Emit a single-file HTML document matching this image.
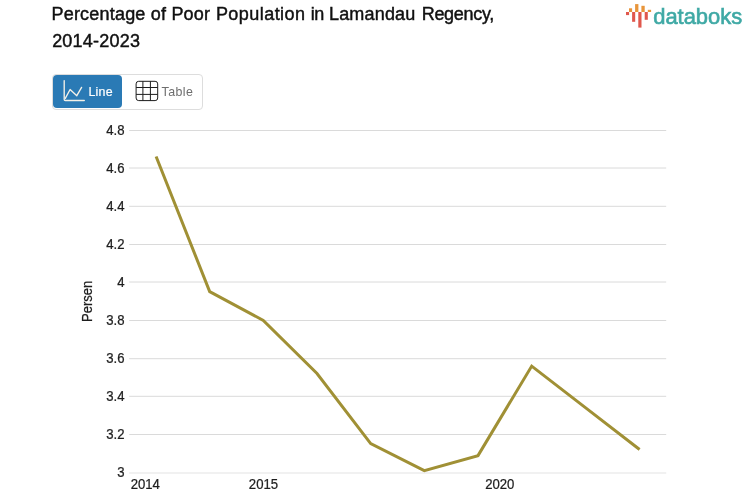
<!DOCTYPE html>
<html><head><meta charset="utf-8">
<style>
html,body{margin:0;padding:0;background:#fff;}
body{width:753px;height:498px;position:relative;overflow:hidden;font-family:"Liberation Sans",sans-serif;}
.t{position:absolute;left:51.5px;font-size:18px;line-height:26px;color:#111;white-space:nowrap;-webkit-text-stroke:0.45px #111;}
.t1{top:1px;letter-spacing:0.2px;}
.t2{top:27.5px;left:52.15px;letter-spacing:0.21px;}
.tabs{position:absolute;left:52px;top:74px;width:151px;height:36px;border:1px solid #ddd;border-radius:4px;box-sizing:border-box;background:#fff;}
.tab-line{position:absolute;left:-0.1px;top:-0.3px;width:69.1px;height:33.1px;background:#2a7ab5;border-radius:4px;color:#fff;font-size:12px;}
.tab-line span{position:absolute;left:35.5px;top:10px;line-height:14px;font-size:12.4px;letter-spacing:0.25px;-webkit-text-stroke:0.2px #fff;}
.tab-table{position:absolute;left:108.5px;top:10px;line-height:14px;font-size:12.4px;letter-spacing:0.45px;color:#6e6e6e;}
svg{position:absolute;left:0;top:0;}
.ax{font-family:"Liberation Sans",sans-serif;font-size:14px;fill:#1e1e1e;stroke:#1e1e1e;stroke-width:0.25px;}
</style></head><body>
<div class="t t1">Percentage of Poor</div>
<div class="t t1" style="left:215.9px;letter-spacing:0.45px">Population</div>
<div class="t t1" style="left:310.8px;letter-spacing:-0.5px">in</div>
<div class="t t1" style="left:329px;letter-spacing:0.17px">Lamandau</div>
<div class="t t1" style="left:421.7px;letter-spacing:-0.3px">Regency,</div>
<div class="t t2">2014-2023</div>
<div class="tabs">
  <div class="tab-line"><span>Line</span></div>
  <div class="tab-table">Table</div>
</div>
<svg width="753" height="498" viewBox="0 0 753 498">
  <!-- gridlines -->
  <g stroke="#dadada" stroke-width="1">
    <line x1="129.2" x2="666.2" y1="130.5" y2="130.5"/>
    <line x1="129.2" x2="666.2" y1="168.0" y2="168.0"/>
    <line x1="129.2" x2="666.2" y1="206.3" y2="206.3"/>
    <line x1="129.2" x2="666.2" y1="244.5" y2="244.5"/>
    <line x1="129.2" x2="666.2" y1="282.0" y2="282.0"/>
    <line x1="129.2" x2="666.2" y1="320.5" y2="320.5"/>
    <line x1="129.2" x2="666.2" y1="358.7" y2="358.7"/>
    <line x1="129.2" x2="666.2" y1="396.3" y2="396.3"/>
    <line x1="129.2" x2="666.2" y1="434.5" y2="434.5"/>
  </g>
  <rect x="129.2" y="472" width="537" height="2" fill="#f1f1f1"/>
  <g class="ax" text-anchor="end">
    <text transform="translate(124.6,134.8) scale(0.94,1)">4.8</text>
    <text transform="translate(124.6,172.8) scale(0.94,1)">4.6</text>
    <text transform="translate(124.6,210.8) scale(0.94,1)">4.4</text>
    <text transform="translate(124.6,248.8) scale(0.94,1)">4.2</text>
    <text transform="translate(124.6,286.8) scale(0.94,1)">4</text>
    <text transform="translate(124.6,324.8) scale(0.94,1)">3.8</text>
    <text transform="translate(124.6,362.8) scale(0.94,1)">3.6</text>
    <text transform="translate(124.6,400.8) scale(0.94,1)">3.4</text>
    <text transform="translate(124.6,438.8) scale(0.94,1)">3.2</text>
    <text transform="translate(124.6,476.8) scale(0.94,1)">3</text>
  </g>
  <g class="ax" text-anchor="middle">
    <text transform="translate(145.3,488.5) scale(0.94,1)">2014</text>
    <text transform="translate(263.5,488.5) scale(0.94,1)">2015</text>
    <text transform="translate(499.8,488.5) scale(0.94,1)">2020</text>
  </g>
  <text class="ax" transform="translate(91.6,301.4) rotate(-90) scale(0.895,1)" text-anchor="middle" style="font-size:14.5px">Persen</text>
  <polyline fill="none" stroke="#a09035" stroke-width="3" stroke-linejoin="miter" points="156.1,156.5 209.7,291.6 263.3,320.4 317.0,373.5 370.7,443.6 424.3,470.7 478.0,455.6 531.7,366.1 585.4,407.6 639.6,449.5"/>
  <!-- logo -->
  <g id="logo">
    <g fill="#e0584d">
      <rect x="626" y="12" width="3.1" height="3.1"/>
      <rect x="632.1" y="12" width="3.1" height="9.8"/>
      <rect x="638.3" y="12" width="3.2" height="15.6"/>
      <rect x="644.7" y="12" width="3.1" height="7.8"/>
    </g>
    <g fill="#e8953a">
      <rect x="629" y="8.3" width="3.1" height="3.7"/>
      <rect x="635.1" y="4.1" width="3.3" height="7.9"/>
      <rect x="641.4" y="5.8" width="3.3" height="6.2"/>
      <rect x="647.8" y="9.8" width="3.3" height="2.2"/>
    </g>
    <text x="653.2" y="23.5" textLength="89" lengthAdjust="spacingAndGlyphs" style="font-family:'Liberation Sans',sans-serif;font-size:22.4px;fill:#3fa9a5;stroke:#3fa9a5;stroke-width:0.65px;">databoks</text>
  </g>
  <!-- tab icons -->
  <g id="icons">
    <g fill="none" stroke="#f4f1e8" stroke-width="1.35" stroke-linecap="round" stroke-linejoin="round">
      <path d="M64.2 80.6 V99.4 Q64.2 100.5 65.3 100.5 H84.3"/>
      <path d="M65.3 98.4 L70.1 89.5 L76.8 95.7 L81.6 87.4"/>
    </g>
    <g fill="none" stroke="#1c1c1c" stroke-width="1">
      <rect x="136.1" y="81.3" width="21.6" height="19.3" rx="2.6"/>
      <path d="M142.9 81.3 V100.6 M150.4 81.3 V100.6 M136.1 87.5 H157.7 M136.1 94.4 H157.7"/>
    </g>
  </g>
</svg>
</body></html>
